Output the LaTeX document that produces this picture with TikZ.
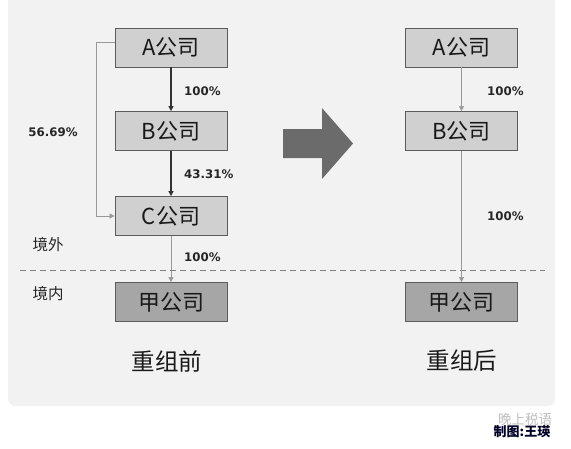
\documentclass[tikz,border=0pt]{standalone}
\usepackage{fontspec}
\setmainfont{Noto Sans CJK SC}
\newfontfamily\pctfont{DejaVu Sans}
\usepackage{xcolor}
\usetikzlibrary{arrows.meta}

\definecolor{panelbg}{HTML}{F2F2F2}
\definecolor{boxfill}{HTML}{D0D0D0}
\definecolor{jiafill}{HTML}{A6A6A6}
\definecolor{edge}{HTML}{5C5C5C}

\begin{document}
\begin{tikzpicture}[
  x=1pt, y=-1pt,
  >={Triangle[length=5pt,width=5pt]},
  co/.style={draw=edge, thick, fill=boxfill, minimum width=112pt, minimum height=39pt,
             inner sep=0pt, font=\fontsize{22}{22}\selectfont, text=black!90},
  jia/.style={co, fill=jiafill},
  own/.style={->, line width=1.1pt, draw=black!80},
  thinown/.style={->, draw=black!40, line width=0.6pt},
  pct/.style={font=\pctfont\bfseries\fontsize{11.8}{12}\selectfont, text=black!85, inner sep=0pt},
  zone/.style={font=\fontsize{15.5}{16}\selectfont, text=black!85, inner sep=0pt},
  stage/.style={font=\fontsize{23.5}{24}\selectfont, text=black!90, inner sep=0pt}
]
\useasboundingbox (0,0) rectangle (571,448);
\fill[panelbg, rounded corners=7pt] (8,-12) rectangle (555,406);

% before
\node[co]  (a1) at (171,47.5)  {A公司};
\node[co]  (b1) at (171,131)   {B公司};
\node[co]  (c1) at (171,216)   {C公司};
\node[jia] (j1) at (171,302)   {甲公司};
\draw[own] (a1) -- (b1);
\draw[own] (b1) -- (c1);
\draw[thinown] ([yshift=5pt]a1.west) -- ++(-18,0) |- (c1.west);
\draw[thinown] (c1) -- (j1);
\node[pct, anchor=west] (p1) at (184,91)  {100\%};
\node[pct, anchor=west] (p2) at (184,174) {43.31\%};
\node[pct, anchor=west] (p3) at (184,257) {100\%};
\node[pct] (p4) at (53,132) {56.69\%};

% border line
\draw[dashed, draw=black!50, line width=0.8pt, dash pattern=on 6pt off 4pt] (20,270) -- (545,270);
\node[zone] (out) at (48,245) {境外};
\node[zone] (in)  at (48,294) {境内};

% change
\fill[black!58] (283,129) -- (322,129) -- (322,108) -- (353,143.5)
  -- (322,179) -- (322,158) -- (283,158) -- cycle;

% after
\node[co]  (a2) at (461.5,47.5) {A公司};
\node[co]  (b2) at (461.5,131)  {B公司};
\node[jia] (j2) at (461.5,302)  {甲公司};
\draw[thinown] (a2) -- (b2);
\draw[thinown] (b2) -- (j2);
\node[pct, anchor=west] (p5) at (487,91)  {100\%};
\node[pct, anchor=west] (p6) at (487,216) {100\%};

\node[stage] (before) at (167,361) {重组前};
\node[stage] (after)  at (462,361) {重组后};

% credit
\node[font=\fontsize{13.5}{14}\selectfont, text=black!25, inner sep=0pt] (wm) at (525,419) {晚上税语};
\node[font=\bfseries\fontsize{13}{13}\selectfont, text=black!85!blue, inner sep=0pt] (credit) at (522,432) {制图:王瑛};
\end{tikzpicture}
\end{document}
